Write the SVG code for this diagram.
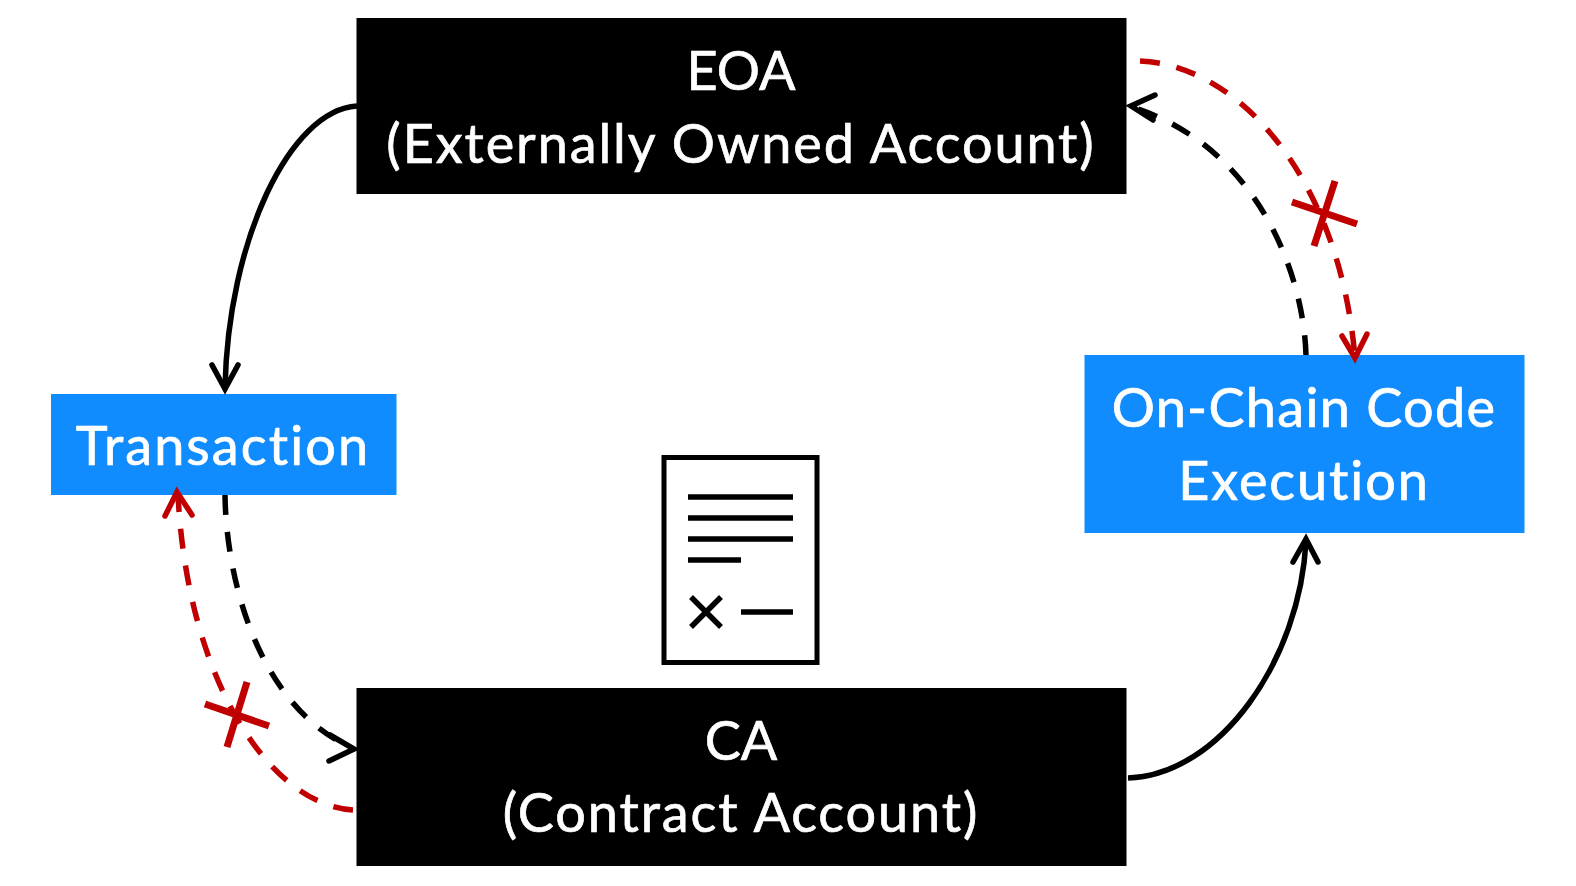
<svg xmlns="http://www.w3.org/2000/svg" width="1576" height="886" viewBox="0 0 1576 886">
  <style>
    .black { fill: #000000; }
    .blue { fill: #118cff; }
    .label { font-family: "Lato", "Open Sans", sans-serif; font-size: 54px; letter-spacing: 1.9px; fill: #ffffff; stroke: #ffffff; stroke-width: 0.7; text-anchor: middle; }
    .tight { letter-spacing: 0; }
    .wire { fill: none; stroke-width: 5.5; }
    .dash { stroke-dasharray: 20 17; }
    .k { stroke: #000000; }
    .r { stroke: #c00000; }
    .head { fill: none; stroke-width: 5.5; stroke-linecap: round; stroke-linejoin: miter; }
    .cross { fill: none; stroke: #c00000; stroke-width: 7; }
    .doc { fill: none; stroke: #000000; stroke-width: 5.5; }
  </style>
  <rect width="1576" height="886" fill="#ffffff"/>

  <g id="eoa">
    <rect class="black" x="356.500" y="18" width="770" height="176"/>
    <text class="label tight" x="741" y="90">EOA</text>
    <text class="label" x="741" y="163">(Externally Owned Account)</text>
  </g>

  <g id="transaction">
    <rect class="blue" x="51" y="394" width="345.500" height="101"/>
    <text class="label" x="223" y="465" style="letter-spacing:2.1px">Transaction</text>
  </g>

  <g id="execution">
    <rect class="blue" x="1084.500" y="355" width="440" height="178"/>
    <text class="label" x="1304" y="427" style="letter-spacing:1.3px">On-Chain Code</text>
    <text class="label" x="1304" y="500">Execution</text>
  </g>

  <g id="contract-account">
    <rect class="black" x="356.500" y="688" width="770" height="178"/>
    <text class="label tight" x="741" y="760">CA</text>
    <text class="label" x="741" y="832">(Contract Account)</text>
  </g>

  <g id="contract-document">
    <rect x="664" y="457.500" width="153" height="205" fill="#ffffff" stroke="#000000" stroke-width="5"/>
    <path class="doc" d="M688,497 H793 M688,518 H793 M688,539 H793 M688,560 H741 M691,597 L721,627 M721,597 L691,627 M741,612 H793"/>
  </g>

  <g id="connectors">
    <!-- solid flows -->
    <path class="wire k" d="M357,106 C290,110 228,240 225,388"/>
    <path class="head k" d="M212,365 L225,389 L238,365"/>
    <path class="wire k" d="M1128,778 C1220,775 1300,660 1306,541"/>
    <path class="head k" d="M1293,562 L1306,539 L1318,562"/>

    <!-- code execution back to the EOA, and its blocked counterpart -->
    <path class="wire k dash" d="M1306,355 C1304,280 1262,150 1135,108"/>
    <path class="head k" d="M1155,95 L1131,106 L1153,120"/>
    <path class="wire r dash" d="M1140,61 C1240,65 1340,180 1355,358"/>
    <path class="head r" d="M1342,336 L1355,358 L1367,334"/>
    <path class="cross" d="M1292,202 L1357,224 M1335,181 L1314,246"/>

    <!-- transaction down to the CA, and its blocked counterpart -->
    <path class="wire k dash" d="M225,495 C226,575 256,705 352,748"/>
    <path class="head k" d="M330,735 L354,749 L329,761"/>
    <path class="wire r dash" d="M353,810 C270,805 187,680 178,494"/>
    <path class="head r" d="M165,516 L177,492 L192,515"/>
    <path class="cross" d="M205,704 L269,726 M247,682 L227,747"/>
  </g>
</svg>
